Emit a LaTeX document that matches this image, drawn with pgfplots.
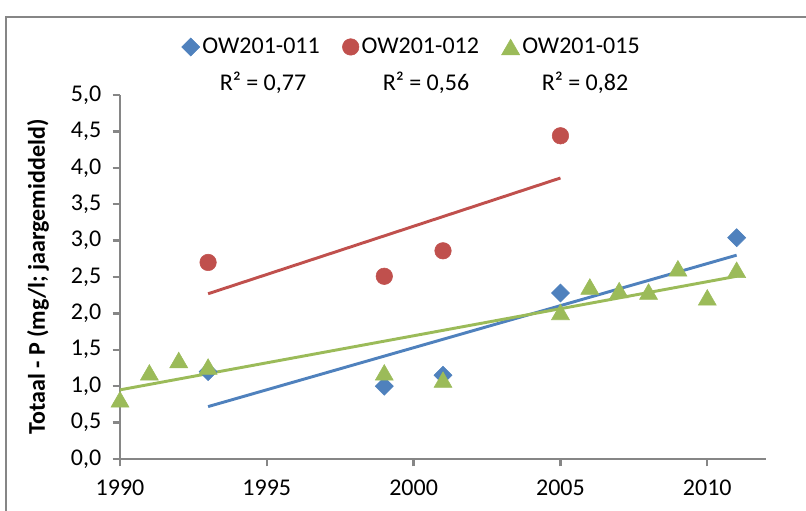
\documentclass[border=0pt]{standalone}
\usepackage{fontspec}
\setmainfont{Carlito}
\usepackage{pgfplots}
\pgfplotsset{compat=1.18}
\definecolor{cblue}{HTML}{4F81BD}
\definecolor{cred}{HTML}{C0504D}
\definecolor{cgreen}{HTML}{9BBB59}
\definecolor{axgray}{HTML}{868686}

\begin{document}
\begin{tikzpicture}[x=0.75pt,y=-0.75pt]
\useasboundingbox (0,0) rectangle (806,510);
% chart area border
\draw[axgray, line width=1.5pt] (6,540) -- (6,17) -- (840,17);
\coordinate (O) at (120,459);
\begin{axis}[
  at={(O)}, anchor=south west,
  scale only axis, width=484.5pt, height=273pt,
  xmin=1990, xmax=2012, ymin=0, ymax=5,
  axis x line*=bottom, axis y line*=left,
  axis line style={axgray, line width=1.8pt},
  xtick={1990,1995,2000,2005,2010},
  ytick={0,0.5,...,5},
  tick style={axgray, line width=1.8pt},
  tick align=outside, major tick length=5.5pt,
  /pgf/number format/assume math mode=true,
  tick label style={font=\fontsize{18}{21}\selectfont},
  x tick label style={/pgf/number format/1000 sep={}, yshift=-7pt},
  y tick label style={xshift=-5pt, /pgf/number format/use comma,
    /pgf/number format/fixed, /pgf/number format/fixed zerofill,
    /pgf/number format/precision=1},
  clip=false,
  legend columns=3,
  legend style={at={(0.452,1.132)}, anchor=center, draw=none, fill=none,
    font=\fontsize{18}{21}\selectfont, /tikz/every even column/.append style={column sep=15pt},
    /tikz/every odd column/.append style={column sep=0pt}},
  legend cell align=left,
]
% trend lines
\addplot[cblue, line width=2.2pt, forget plot] coordinates {(1993,0.72) (2011,2.80)};
\addplot[cred, line width=2.2pt, forget plot] coordinates {(1993,2.27) (2005,3.86)};
\addplot[cgreen, line width=2.2pt, forget plot] coordinates {(1990,0.95) (2011,2.51)};
% measurements
\addplot[only marks, mark=square*, mark size=4.8pt, mark options={rotate=45, draw=cblue, fill=cblue}]
  coordinates {(1993,1.20) (1999,1.00) (2001,1.15) (2005,2.28) (2011,3.04)};
\addlegendentry{OW201-011}
\addplot[only marks, mark=*, mark size=6.2pt, mark options={draw=cred, fill=cred}]
  coordinates {(1993,2.70) (1999,2.51) (2001,2.86) (2005,4.44)};
\addlegendentry{OW201-012}
\addplot[only marks, mark=triangle*, mark size=7.8pt, mark options={yshift=-1.95pt, draw=cgreen, fill=cgreen}]
  coordinates {(1990,0.82) (1991,1.19) (1992,1.36) (1993,1.27) (1999,1.19) (2001,1.09)
               (2005,2.02) (2006,2.37) (2007,2.32) (2008,2.30) (2009,2.62) (2010,2.22) (2011,2.60)};
\addlegendentry{OW201-015}
\end{axis}
\node[font=\fontsize{18}{21}\selectfont] at (263,83) {R² = 0,77};
\node[font=\fontsize{18}{21}\selectfont] at (426,83) {R² = 0,56};
\node[font=\fontsize{18}{21}\selectfont] at (585,83) {R² = 0,82};
\node[rotate=90, font=\fontsize{18}{21}\selectfont\bfseries] at (38,277) {Totaal - P (mg/l; jaargemiddeld)};
\end{tikzpicture}
\end{document}
